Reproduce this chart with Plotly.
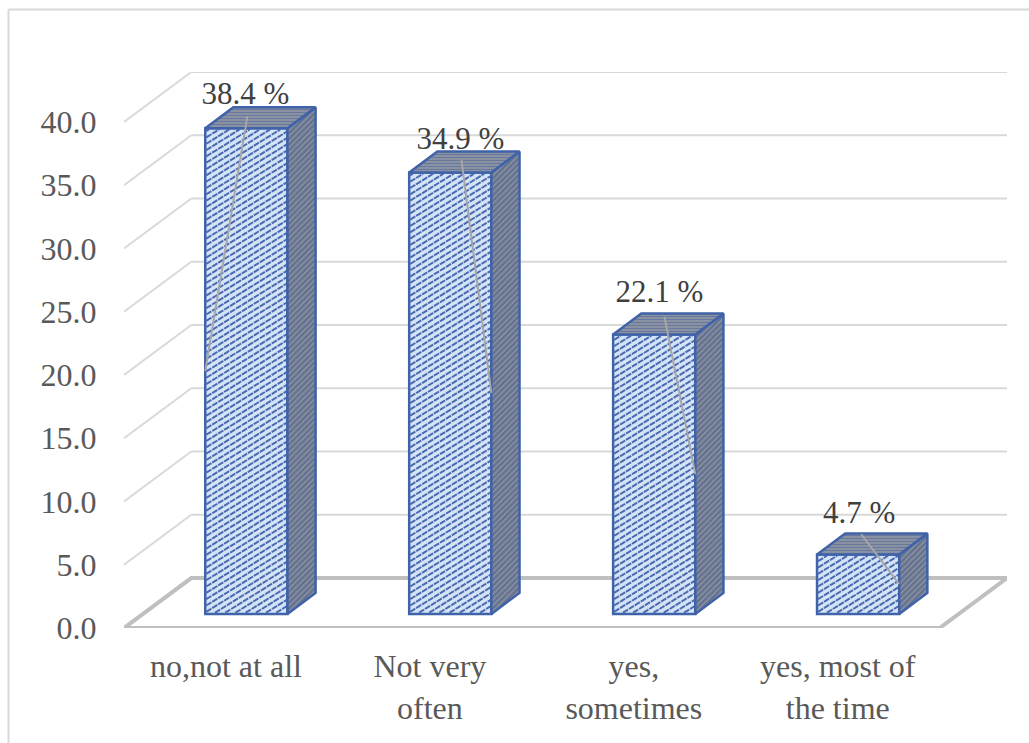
import plotly.graph_objects as go

# Survey answers and their percentages
categories = ["no,not at all", "Not very<br>often", "yes,<br>sometimes", "yes, most of<br>the time"]
values = [38.4, 34.9, 22.1, 4.7]
y_ticks = [0, 5, 10, 15, 20, 25, 30, 35, 40]

# Page layout, in pixels
W, H = 1029, 743
L, R, T, B = 124, 22, 72, 115

# Oblique projection of the floor depth, in data units
DEPTH_X = 0.33
DEPTH_Y = 3.95
X_MAX = len(categories) + DEPTH_X
Y_MAX = max(y_ticks) + DEPTH_Y

# Bar box: front-face width, box depth and placement within the floor depth
BAR_W = 0.403
BOX_DX = 0.138
BOX_DY = 1.66
FRONT_DX = 0.10
FRONT_DY = 1.11

# Hatching on the front faces: rise per category unit and vertical spacing
HATCH_RISE = 10.0
HATCH_STEP = 0.5

# Offsets for the value labels and their leader lines
label_dx = [-0.005, 0.05, 0.025, 0.005]
label_dy = [2.5, 2.5, 3.2, 3.1]
leader_dx = [0.005, 0.055, 0.05, 0.015]
leader_dy = [0.95, 1.0, 1.4, 1.6]
leader_side = [-1, 1, 1, 1]

GRID = "#d9d9d9"
FLOOR = "#bfbfbf"
EDGE = "#3f62a8"
LABEL_TEXT = "#404040"
AXIS_TEXT = "#595959"
FONT = "Liberation Serif"
AXIS_SIZE = 32
LABEL_SIZE = 31


def hatch_lines(x0, x1, y0, y1):
    """Rising diagonal strokes clipped to the rectangle x0..x1, y0..y1."""
    xs, ys = [], []
    c = y0 - HATCH_RISE * (x1 - x0)
    while c < y1:
        xa = max(x0, x0 + (y0 - c) / HATCH_RISE)
        xb = min(x1, x0 + (y1 - c) / HATCH_RISE)
        if xb > xa:
            xs += [xa, xb, None]
            ys += [c + HATCH_RISE * (xa - x0), c + HATCH_RISE * (xb - x0), None]
        c += HATCH_STEP
    return xs, ys


shapes = []

# Back wall and side wall gridlines
for t in y_ticks[1:]:
    yb = t + DEPTH_Y
    shapes.append(dict(type="line", xref="x", yref="y", x0=0, y0=t, x1=DEPTH_X, y1=yb,
                       line=dict(color=GRID, width=2), layer="below"))
    shapes.append(dict(type="line", xref="x", yref="y", x0=DEPTH_X, y0=yb, x1=X_MAX, y1=yb,
                       line=dict(color=GRID, width=2), layer="below"))

# Floor outline
n = len(categories)
shapes.append(dict(type="path", xref="x", yref="y", layer="below",
                   path=f"M 0 0 L {n} 0 L {X_MAX} {DEPTH_Y} L {DEPTH_X} {DEPTH_Y} Z",
                   line=dict(color=FLOOR, width=4), fillcolor="#ffffff"))

# Chart frame, running off the right and bottom of the page
pw, ph = W - L - R, H - T - B
fx = (8.5 - L) / pw
fy = 1 + (T - 9.5) / ph
shapes.append(dict(type="line", xref="paper", yref="paper", x0=fx, y0=fy, x1=(W + 5 - L) / pw, y1=fy,
                   line=dict(color=GRID, width=2)))
shapes.append(dict(type="line", xref="paper", yref="paper", x0=fx, y0=fy, x1=fx, y1=-(B + 5) / ph,
                   line=dict(color=GRID, width=2)))

fig = go.Figure()

centers = [i + 0.5 + FRONT_DX for i in range(n)]

# Front faces
fig.add_trace(go.Bar(
    x=centers, y=values, base=[FRONT_DY] * n, width=BAR_W,
    marker=dict(color="#d5e3f7", line=dict(color=EDGE, width=2.5)),
    hoverinfo="skip", showlegend=False,
))

for cx, v in zip(centers, values):
    x0 = cx - BAR_W / 2
    x1 = cx + BAR_W / 2
    y0 = FRONT_DY
    y1 = FRONT_DY + v
    # Hatching on the front face
    hx, hy = hatch_lines(x0 + 0.005, x1 - 0.005, y0 + 0.1, y1 - 0.1)
    fig.add_trace(go.Scatter(
        x=hx, y=hy, mode="lines", line=dict(color="#4a6bb0", width=2, dash="6px,1px"),
        hoverinfo="skip", showlegend=False,
    ))
    # Side face
    fig.add_trace(go.Scatter(
        x=[x1, x1 + BOX_DX, x1 + BOX_DX, x1, x1],
        y=[y0, y0 + BOX_DY, y1 + BOX_DY, y1, y0],
        mode="lines", fill="toself", fillcolor="#6f7b92",
        fillpattern=dict(shape="/", bgcolor="#8b8f99", fgcolor="#34528f", size=4, solidity=0.55),
        line=dict(color=EDGE, width=2.5), cliponaxis=False, hoverinfo="skip", showlegend=False,
    ))
    # Top face
    fig.add_trace(go.Scatter(
        x=[x0, x1, x1 + BOX_DX, x0 + BOX_DX, x0],
        y=[y1, y1, y1 + BOX_DY, y1 + BOX_DY, y1],
        mode="lines", fill="toself", fillcolor="#6f7b92",
        fillpattern=dict(shape="-", bgcolor="#9096a3", fgcolor="#3e5d98", size=3, solidity=0.45),
        line=dict(color=EDGE, width=2.5), cliponaxis=False, hoverinfo="skip", showlegend=False,
    ))

# Leader lines from each value label down to half the bar height
for i, (cx, v) in enumerate(zip(centers, values)):
    fig.add_trace(go.Scatter(
        x=[cx + leader_dx[i], cx + leader_side[i] * BAR_W / 2],
        y=[FRONT_DY + v + leader_dy[i], FRONT_DY + v / 2],
        mode="lines", line=dict(color="#a6a6a6", width=2),
        cliponaxis=False, hoverinfo="skip", showlegend=False,
    ))

# Value labels
fig.add_trace(go.Scatter(
    x=[c + d for c, d in zip(centers, label_dx)],
    y=[FRONT_DY + v + d for v, d in zip(values, label_dy)],
    text=[f"{v} %" for v in values],
    mode="text", textposition="middle center",
    textfont=dict(family=FONT, size=LABEL_SIZE, color=LABEL_TEXT),
    cliponaxis=False, hoverinfo="skip", showlegend=False,
))

fig.update_layout(
    width=W, height=H,
    margin=dict(l=L, r=R, t=T, b=B, pad=0),
    paper_bgcolor="#ffffff", plot_bgcolor="rgba(0,0,0,0)",
    shapes=shapes, showlegend=False,
    font=dict(family=FONT, size=AXIS_SIZE, color=AXIS_TEXT),
    xaxis=dict(
        range=[0, X_MAX], tickmode="array",
        tickvals=[i + 0.5 for i in range(n)], ticktext=categories,
        showgrid=False, zeroline=False, showline=False,
        ticks="outside", ticklen=10, tickcolor="rgba(0,0,0,0)",
        tickfont=dict(family=FONT, size=AXIS_SIZE, color=AXIS_TEXT), tickangle=0,
    ),
    yaxis=dict(
        range=[0, Y_MAX], tickmode="array",
        tickvals=y_ticks, ticktext=[f"{t:.1f}" for t in y_ticks],
        showgrid=False, zeroline=False, showline=False,
        ticks="outside", ticklen=20, tickcolor="rgba(0,0,0,0)",
        tickfont=dict(family=FONT, size=AXIS_SIZE, color=AXIS_TEXT),
    ),
)

fig.write_html("out.html")
